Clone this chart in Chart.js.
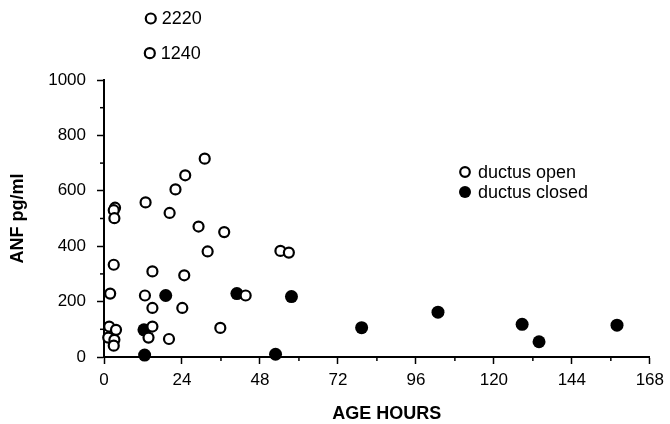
<!DOCTYPE html>
<html>
<head>
<meta charset="utf-8">
<script src="https://cdn.jsdelivr.net/npm/chart.js@4/dist/chart.umd.min.js"></script>
<style>
  html, body { margin: 0; padding: 0; background: #fff; }
  #wrap { width: 670px; height: 424px; }
</style>
</head>
<body>
<div id="wrap"><canvas id="chart" width="670" height="424"></canvas></div>
<script>
// values
const xTicks = [0, 24, 48, 72, 96, 120, 144, 168];
const yTicks = [0, 200, 400, 600, 800, 1000];

const openHours = [31, 25, 22, 12.8, 3.4, 3.0, 3.2, 20.2, 29.1, 37, 31.9, 54.3, 56.9, 3.0, 14.9, 24.7,
                   1.9, 12.6, 43.6, 14.9, 24.1, 1.6, 3.7, 14.9, 35.8, 1.3, 3.2, 3.0, 13.7, 20.0];
const openANF = [716, 656, 605, 558, 539, 530, 501, 520, 471, 451, 381, 383, 377, 333, 309, 295,
                 229, 222, 222, 177, 177, 110, 98, 110, 105, 70, 62, 41, 70, 65];

const closedHours = [19.0, 40.9, 57.7, 12.3, 12.5, 52.8, 79.3, 102.8, 128.7, 133.9, 157.9];
const closedANF = [222, 229, 218, 98, 7, 10, 106, 162, 118, 55, 115];

// two off-scale values shown above the axis break
const outlierHours = [14.4, 14.1];
const outlierANF = [2220, 1240];
const outlierPlotY = [1222, 1097];

const toPts = (xs, ys) => xs.map((x, i) => ({ x: x, y: ys[i] }));

const FONT = "'Liberation Sans', Arial, Helvetica, sans-serif";

const extras = {
  id: 'extras',
  afterDraw(chart) {
    const ctx = chart.ctx;
    const xs = chart.scales.x, ys = chart.scales.y;
    const ca = chart.chartArea;
    ctx.save();
    ctx.strokeStyle = '#000';
    ctx.fillStyle = '#000';
    ctx.lineWidth = 1.5;
    // minor ticks
    for (let v = 12; v < 168; v += 24) {
      const px = xs.getPixelForValue(v);
      ctx.beginPath(); ctx.moveTo(px, ca.bottom); ctx.lineTo(px, ca.bottom + 4); ctx.stroke();
    }
    for (let v = 100; v < 1000; v += 200) {
      const py = ys.getPixelForValue(v);
      ctx.beginPath(); ctx.moveTo(ca.left, py); ctx.lineTo(ca.left - 4, py); ctx.stroke();
    }
    // off-scale points and their values
    ctx.font = '18px ' + FONT;
    ctx.textBaseline = 'middle';
    ctx.textAlign = 'left';
    ctx.lineWidth = 2.2;
    outlierANF.forEach((v, i) => {
      const px = xs.getPixelForValue(outlierHours[i]);
      const py = ys.getPixelForValue(outlierPlotY[i]);
      ctx.beginPath(); ctx.arc(px, py, 5, 0, Math.PI * 2); ctx.stroke();
      ctx.fillText(String(v), px + 11, py + 1);
    });
    // legend
    const lx = ca.left + 361, ly = ca.top + 92;
    ctx.beginPath(); ctx.arc(lx, ly, 4.8, 0, Math.PI * 2); ctx.stroke();
    ctx.beginPath(); ctx.arc(lx, ly + 20, 6, 0, Math.PI * 2); ctx.fill();
    ctx.fillText('ductus open', lx + 13, ly + 1);
    ctx.fillText('ductus closed', lx + 13, ly + 21);
    // x title
    ctx.font = 'bold 18px ' + FONT;
    ctx.textAlign = 'center';
    ctx.fillText('AGE HOURS', xs.getPixelForValue(87), ca.bottom + 57);
    ctx.restore();
  }
};

new Chart(document.getElementById('chart'), {
  type: 'scatter',
  data: {
    datasets: [
      {
        label: 'ductus open',
        data: toPts(openHours, openANF),
        pointStyle: 'circle', pointRadius: 5, borderWidth: 2.2,
        borderColor: '#000', backgroundColor: '#fff', clip: false
      },
      {
        label: 'ductus closed',
        data: toPts(closedHours, closedANF),
        pointStyle: 'circle', pointRadius: 6.5, borderWidth: 0,
        borderColor: '#000', backgroundColor: '#000', clip: false
      }
    ]
  },
  options: {
    responsive: false,
    animation: false,
    layout: { padding: { top: 80, right: 18, left: 0, bottom: 0 } },
    plugins: { legend: { display: false }, tooltip: { enabled: false } },
    scales: {
      x: {
        type: 'linear', min: 0, max: 168,
        afterBuildTicks: s => { s.ticks = xTicks.map(v => ({ value: v })); },
        afterFit: s => { s.height = 67; },
        border: { color: '#000', width: 2 },
        grid: { drawOnChartArea: false, tickLength: 7, tickColor: '#000', tickWidth: 1.5 },
        ticks: { color: '#000', padding: 6, maxRotation: 0, callback: v => String(v),
                 font: { family: FONT, size: 17 } }
      },
      y: {
        min: 0, max: 1000,
        afterBuildTicks: s => { s.ticks = yTicks.map(v => ({ value: v })); },
        afterFit: s => { s.width = 104; },
        border: { color: '#000', width: 2 },
        grid: { drawOnChartArea: false, tickLength: 7, tickColor: '#000', tickWidth: 1.5 },
        ticks: { color: '#000', padding: 11, callback: v => String(v),
                 font: { family: FONT, size: 17 } },
        title: { display: true, text: 'ANF pg/ml', color: '#000', padding: { top: 7, bottom: 0 },
                 font: { family: FONT, size: 18, weight: 'bold' } }
      }
    }
  },
  plugins: [extras]
});
</script>
</body>
</html>
